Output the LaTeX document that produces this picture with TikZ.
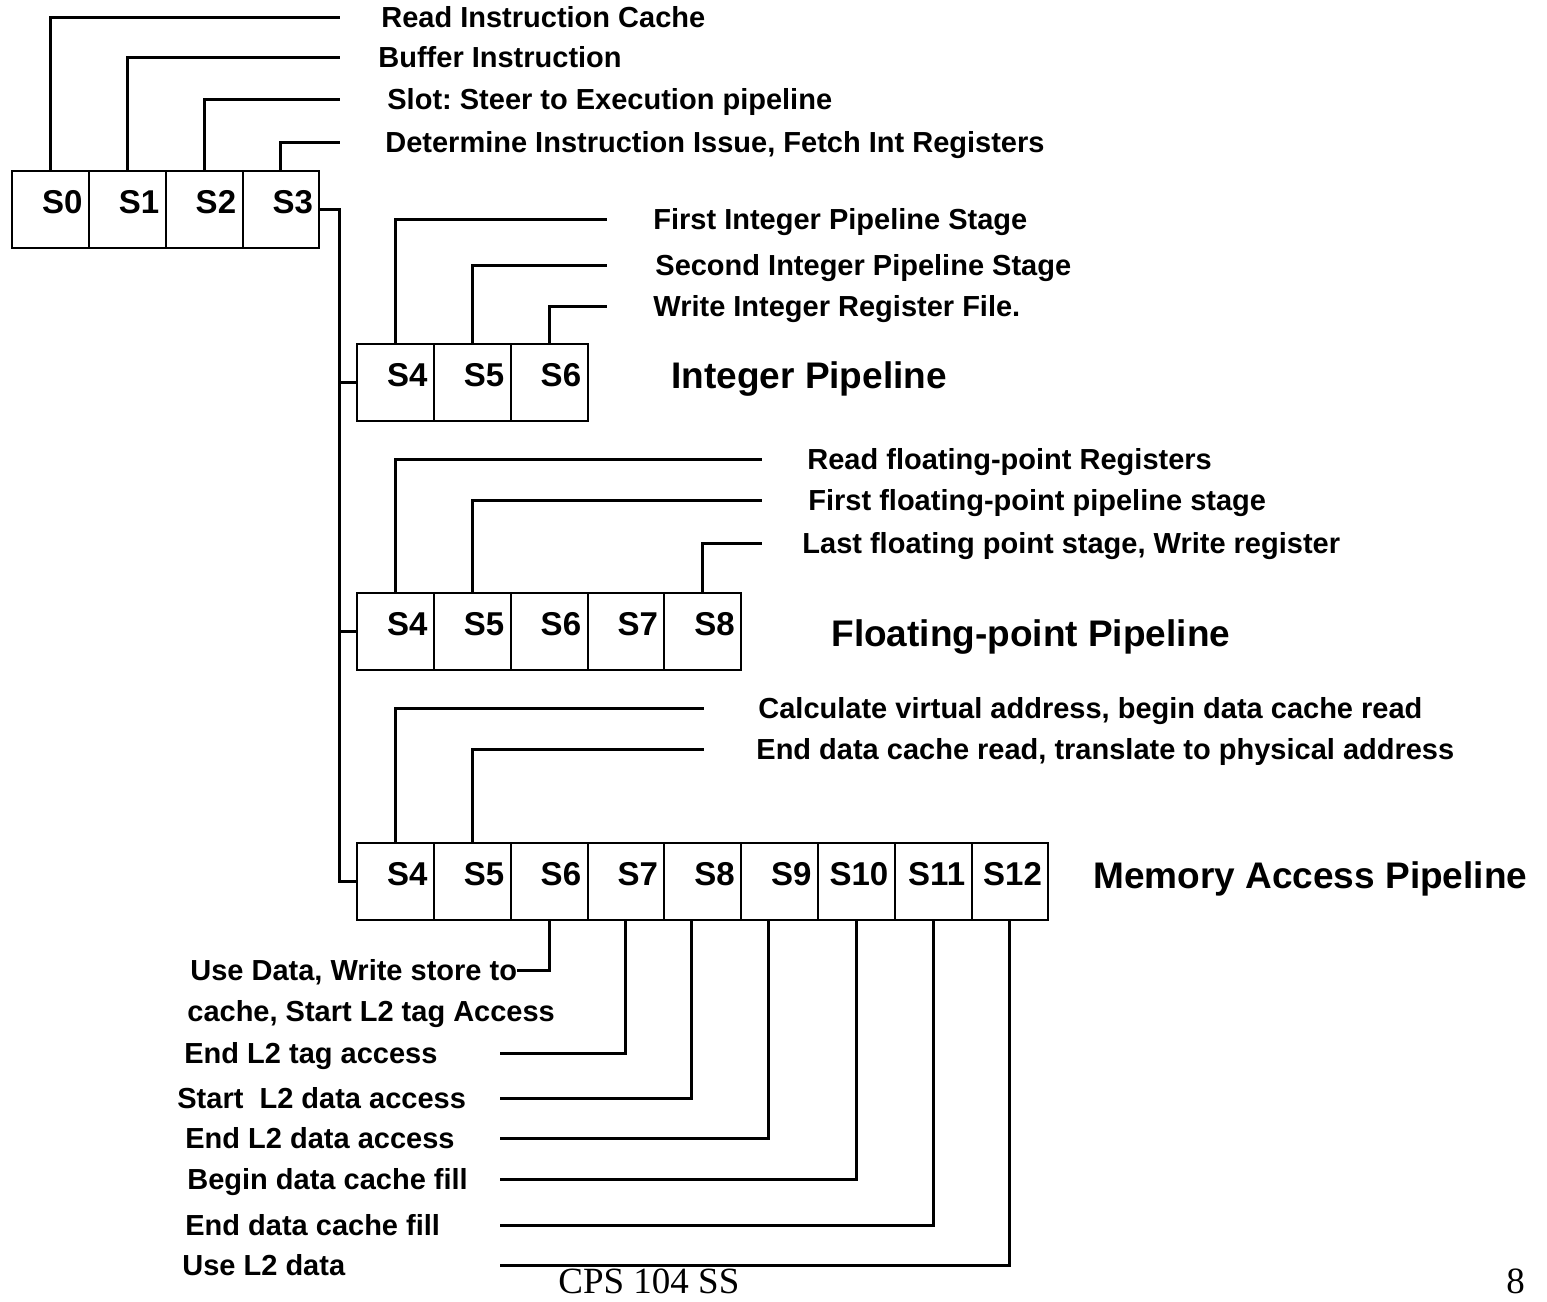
\documentclass[tikz,border=0pt]{standalone}
\usepackage{fontspec}
\setmainfont{Liberation Sans}
\newfontfamily\footfont{Liberation Serif}
\frenchspacing
\usetikzlibrary{positioning}

\tikzset{
  cell/.style={draw, line width=1pt, outer sep=0pt,
    minimum width=38.4pt, minimum height=38.5pt,
    text width=32pt, inner xsep=3.2pt, align=right,
    text height=11.8pt, text depth=8pt,
    font=\bfseries\fontsize{16.5}{18}\selectfont},
  lbl/.style={anchor=west, inner sep=0pt, text height=10.4pt, text depth=0pt,
    font=\bfseries\fontsize{14.5}{17}\selectfont},
  ttl/.style={anchor=west, inner sep=0pt, text height=13.3pt, text depth=0pt,
    font=\bfseries\fontsize{18.5}{21}\selectfont},
  foot/.style={anchor=base west, inner sep=0pt,
    font=\footfont\fontsize{18.5}{21}\selectfont},
  lead/.style={line width=1.5pt},
  wire/.style={line width=1.5pt}
}

\begin{document}
\begin{tikzpicture}[x=0.5pt, y=-0.5pt]
\useasboundingbox (0,0) rectangle (1547,1301);

% stage boxes
\node[cell] (f0) at (50.5,209.5) {S0};
\foreach \i [remember=\i as \p (initially 0)] in {1,...,3}
  \node[cell, right=0pt of f\p] (f\i) {S\i};

\node[cell] (i4) at (395.5,382.5) {S4};
\foreach \i [remember=\i as \p (initially 4)] in {5,6}
  \node[cell, right=0pt of i\p] (i\i) {S\i};

\node[cell] (p4) at (395.5,631.5) {S4};
\foreach \i [remember=\i as \p (initially 4)] in {5,...,8}
  \node[cell, right=0pt of p\p] (p\i) {S\i};

\node[cell] (m4) at (395.5,881.5) {S4};
\foreach \i [remember=\i as \p (initially 4)] in {5,...,12}
  \node[cell, right=0pt of m\p] (m\i) {S\i};

% pipeline names
\node[ttl] (intname) at (671,375) {Integer Pipeline};
\node[ttl] (fpname) at (831,633) {Floating-point Pipeline};
\node[ttl] (memname) at (1093,875) {Memory Access Pipeline};

% stage descriptions
\node[lbl] (rd) at (381,17) {Read Instruction Cache};
\node[lbl] (bi) at (378,57) {Buffer Instruction};
\node[lbl] (sl) at (387,99) {Slot: Steer to Execution pipeline};
\node[lbl] (dt) at (385,142) {Determine Instruction Issue, Fetch Int Registers};

\node[lbl] (fi) at (653,219) {First Integer Pipeline Stage};
\node[lbl] (si) at (655,265) {Second Integer Pipeline Stage};
\node[lbl] (wi) at (653,306) {Write Integer Register File.};

\node[lbl] (rf) at (807,459) {Read floating-point Registers};
\node[lbl] (ff) at (808,500) {First floating-point pipeline stage};
\node[lbl] (lf) at (802,543) {Last floating point stage, Write register};

\node[lbl] (cv) at (758,708) {Calculate virtual address, begin data cache read};
\node[lbl] (ed) at (756,749) {End data cache read, translate to physical address};

\node[lbl] (ud) at (190,970) {Use Data, Write store to};
\node[lbl] (cs) at (187,1011) {cache, Start L2 tag Access};
\node[lbl] (et) at (184,1053) {End L2 tag access};
\node[lbl] (sd) at (177,1098) {Start\ \ L2 data access};
\node[lbl] (el) at (185,1138) {End L2 data access};
\node[lbl] (bf) at (187,1179) {Begin data cache fill};
\node[lbl] (ef) at (185,1225) {End data cache fill};
\node[lbl] (ul) at (182,1265) {Use L2 data};

\node[foot] (title) at (558,1293) {CPS 104 SS};
\node[foot] (page) at (1506,1293) {8};

% line ends
\coordinate (topend) at (340,0);
\coordinate (intend) at (607,0);
\coordinate (fpend) at (762,0);
\coordinate (memend) at (704,0);
\coordinate (botend) at (500,0);
\coordinate (bus) at (339,0);

% leaders
\foreach \c/\l in {f0/rd, f1/bi, f2/sl, f3/dt}
  \draw[lead] (\c.north) |- (\l.west -| topend);
\foreach \c/\l in {i4/fi, i5/si, i6/wi}
  \draw[lead] (\c.north) |- (\l.west -| intend);
\foreach \c/\l in {p4/rf, p5/ff, p8/lf}
  \draw[lead] (\c.north) |- (\l.west -| fpend);
\foreach \c/\l in {m4/cv, m5/ed}
  \draw[lead] (\c.north) |- (\l.west -| memend);
\draw[lead] (m6.south) |- (ud.east);
\foreach \c/\s/\l in {m7/0/et, m8/-11.5/sd, m9/-11.5/el, m10/0/bf, m11/0/ef, m12/0/ul}
  \draw[lead] ([xshift=\s*0.5pt]\c.south) |- (\l.east -| botend);

% issue bus
\draw[wire] (f3.east) -| (bus |- m4.west) -- (m4.west);
\draw[wire] (bus |- i4.west) -- (i4.west);
\draw[wire] (bus |- p4.west) -- (p4.west);

\end{tikzpicture}
\end{document}
